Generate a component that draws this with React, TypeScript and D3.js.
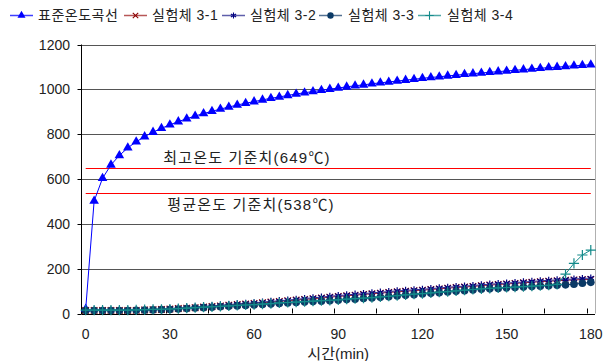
import React from 'react'
import * as d3 from 'd3'

// time axis (min), one category every 3 minutes
const minutes = d3.range(0, 181, 3)

// ISO 834 standard fire curve values
const standardCurve = [
  20, 502, 603, 663, 705, 739, 766, 789, 809, 826, 842, 856, 869, 881, 892, 902,
  912, 921, 930, 938, 945, 953, 960, 966, 973, 979, 985, 990, 996, 1001, 1006,
  1011, 1016, 1020, 1025, 1029, 1033, 1037, 1041, 1045, 1049, 1053, 1056, 1060,
  1063, 1067, 1070, 1073, 1076, 1079, 1082, 1085, 1088, 1091, 1094, 1097, 1099,
  1102, 1105, 1107, 1110,
]

const specimen31 = [
  14, 14, 14, 14, 14, 14, 14, 16, 17, 18, 20, 22, 24, 26, 29, 31,
  34, 37, 40, 42, 45, 48, 51, 54, 57, 60, 63, 66, 69, 73, 76,
  79, 82, 85, 88, 91, 94, 97, 99, 102, 104, 107, 110, 113, 116, 118,
  121, 124, 127, 129, 132, 134, 137, 139, 142, 144, 146, 148, 150, 151, 152,
]

const specimen32 = [
  15, 15, 15, 15, 15, 15, 15, 17, 19, 20, 22, 24, 27, 29, 32, 34,
  37, 40, 43, 45, 48, 51, 54, 57, 60, 63, 67, 70, 73, 77, 80,
  83, 86, 89, 92, 95, 98, 101, 103, 106, 108, 111, 114, 117, 120, 122,
  125, 128, 131, 133, 136, 138, 141, 143, 146, 148, 150, 152, 154, 156, 158,
]

const specimen33 = [
  13, 13, 13, 13, 13, 13, 14, 15, 16, 17, 18, 20, 22, 24, 26, 28,
  30, 32, 34, 36, 38, 40, 42, 45, 47, 49, 51, 53, 55, 57, 59,
  62, 64, 67, 69, 72, 75, 78, 81, 84, 87, 90, 93, 96, 99, 102,
  105, 108, 110, 112, 114, 116, 118, 120, 122, 124, 126, 128, 131, 135, 139,
]

const specimen34 = [
  15, 15, 15, 15, 15, 15, 16, 17, 18, 19, 20, 22, 24, 26, 28, 30,
  32, 34, 36, 38, 40, 42, 44, 47, 49, 51, 53, 55, 57, 59, 61,
  64, 66, 69, 71, 74, 77, 80, 83, 86, 89, 92, 95, 98, 101, 104,
  107, 110, 112, 114, 116, 118, 120, 122, 124, 126, 130, 176, 224, 261, 283,
]

const yTicks = [0, 200, 400, 600, 800, 1000, 1200]
const xLabels = [0, 30, 60, 90, 120, 150, 180]

const maxLimit = 649
const avgLimit = 538

const FONT = "'Liberation Sans', 'Noto Sans CJK KR', sans-serif"

type Series = {
  name: string
  values: number[]
  color: string
  lineColor: string
  symbol: d3.SymbolType
  size: number
  filled: boolean
}

const series: Series[] = [
  { name: '표준온도곡선', values: standardCurve, color: '#0000ff', lineColor: '#0000ff', symbol: d3.symbolTriangle, size: 40, filled: true },
  { name: '실험체 3-1', values: specimen31, color: '#8b0000', lineColor: '#a02020', symbol: d3.symbolX, size: 30, filled: false },
  { name: '실험체 3-2', values: specimen32, color: '#000080', lineColor: '#2a2a90', symbol: d3.symbolAsterisk, size: 36, filled: false },
  { name: '실험체 3-3', values: specimen33, color: '#0b3a66', lineColor: '#1c4470', symbol: d3.symbolCircle, size: 46, filled: true },
  { name: '실험체 3-4', values: specimen34, color: '#138a8a', lineColor: '#138a8a', symbol: d3.symbolPlus, size: 36, filled: false },
]

export default function App() {
  const width = 611
  const height = 361
  const left = 81.5
  const right = 595
  const top = 44.5
  const bottom = 313.5

  const x = d3.scalePoint<number>().domain(minutes).range([left, right]).padding(0.5)
  const step = x.step()
  const y = d3.scaleLinear().domain([0, 1200]).range([bottom, top])

  const line = d3.line<number>()
    .x((_, i) => x(minutes[i]) as number)
    .y(d => y(d))

  // minor ticks on category boundaries, every 5 categories
  const tickBoundaries = d3.range(0, minutes.length + 1, 5).map(i => left + i * step)

  const legendItems = [
    { lx: 10, tx: 38 },
    { lx: 124, tx: 152 },
    { lx: 222, tx: 250 },
    { lx: 319, tx: 348 },
    { lx: 418, tx: 447 },
  ]

  return (
    <svg width={width} height={height} style={{ position: 'absolute', left: 0, top: 0, background: '#fff' }} fontFamily={FONT}>
      {/* gridlines */}
      {yTicks.map(t => (
        <line key={t} x1={left} x2={right} y1={Math.round(y(t)) + 0.5} y2={Math.round(y(t)) + 0.5}
          stroke={t === 0 ? '#000' : '#555'} strokeWidth={1} />
      ))}
      {/* right border */}
      <line x1={right + 0.5} x2={right + 0.5} y1={top} y2={bottom} stroke="#b0b0b0" />
      {/* y axis */}
      <line x1={left} x2={left} y1={top} y2={bottom + 0.5} stroke="#000" />
      {yTicks.map(t => (
        <g key={'yl' + t}>
          <line x1={left - 4} x2={left} y1={Math.round(y(t)) + 0.5} y2={Math.round(y(t)) + 0.5} stroke="#000" />
          <text x={70} y={y(t)} dy="0.36em" textAnchor="end" fontSize={14} fill="#222">{t}</text>
        </g>
      ))}
      {/* x axis ticks */}
      {tickBoundaries.map((bx, i) => (
        <line key={'xt' + i} x1={Math.round(bx) + 0.5} x2={Math.round(bx) + 0.5} y1={bottom - 5} y2={bottom} stroke="#000" />
      ))}
      {xLabels.map(v => (
        <text key={'xl' + v} x={x(v)} y={334} dy="0.36em" textAnchor="middle" fontSize={14} fill="#222">{v}</text>
      ))}
      <text x={(left + right) / 2} y={354} dy="0.36em" textAnchor="middle" fontSize={15} fill="#222">시간(min)</text>

      {/* limit lines */}
      <line x1={x(0)} x2={x(180)} y1={Math.round(y(maxLimit)) + 0.5} y2={Math.round(y(maxLimit)) + 0.5} stroke="#ff0000" />
      <line x1={x(0)} x2={x(180)} y1={Math.round(y(avgLimit)) + 0.5} y2={Math.round(y(avgLimit)) + 0.5} stroke="#ff0000" />
      <text x={247} y={158} dy="0.36em" textAnchor="middle" fontSize={15} letterSpacing={1.2} fill="#222">최고온도 기준치(649℃)</text>
      <text x={251} y={205} dy="0.36em" textAnchor="middle" fontSize={15} letterSpacing={1.2} fill="#222">평균온도 기준치(538℃)</text>

      {/* series */}
      {series.map(s => {
        const sym = d3.symbol().type(s.symbol).size(s.size)()
        return (
          <g key={s.name}>
            <path d={line(s.values) ?? ''} fill="none" stroke={s.lineColor} strokeWidth={1} />
            {s.values.map((v, i) => (
              <path key={i} d={sym ?? ''} transform={`translate(${x(minutes[i])},${y(v)})`}
                fill={s.filled ? s.color : 'none'} stroke={s.color} strokeWidth={s.filled ? 0 : 1.2} />
            ))}
          </g>
        )
      })}

      {/* legend */}
      {series.map((s, i) => {
        const { lx, tx } = legendItems[i]
        const sym = d3.symbol().type(s.symbol).size(s.size * 0.7)()
        return (
          <g key={'lg' + s.name}>
            <line x1={lx} x2={lx + 23} y1={15.5} y2={15.5} stroke={s.lineColor} strokeWidth={1.5} opacity={0.75} />
            <path d={sym ?? ''} transform={`translate(${lx + 11.5},15.5)`}
              fill={s.filled ? s.color : 'none'} stroke={s.color} strokeWidth={s.filled ? 0 : 1.1} />
            <text x={tx} y={15} dy="0.36em" fontSize={14} letterSpacing={0.5} fill="#222">{s.name}</text>
          </g>
        )
      })}
    </svg>
  )
}
